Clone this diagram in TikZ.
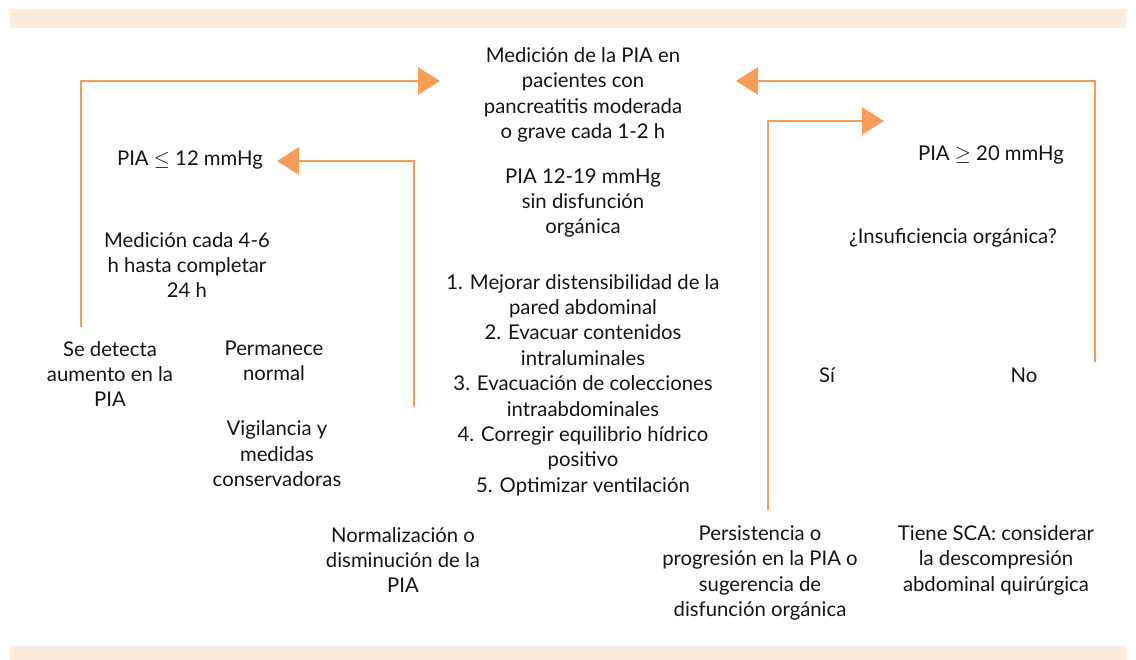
\documentclass[tikz,border=0pt]{standalone}
\usepackage{fontspec}
\setmainfont{Lato}
\usetikzlibrary{arrows.meta}
\usetikzlibrary{positioning}

\definecolor{piaorange}{HTML}{F89D58}
\definecolor{piaband}{HTML}{FDEBDD}

\tikzset{
	txt/.style={align=center,inner sep=0pt,text=black!92,font=\fontsize{20.3}{25.4}\selectfont},
	flow/.style={draw=piaorange,line width=2.6pt,-{Triangle[length=22pt,width=27pt]}}
}

\begin{document}
\begin{tikzpicture}[x=1pt,y=-1pt]
	\useasboundingbox (0,0) rectangle (1136,660);
	% bands
	\fill[piaband] (10,9) rectangle (1126,28);
	\fill[piaband] (10,646) rectangle (1126,660);

	% Place nodes
	\node[txt] (measure) at (583,95) {Medición de la PIA en\\pacientes con\\pancreatitis moderada\\o grave cada 1-2 h};
	\node[txt] (mid) at (583,203) {PIA 12-19 mmHg\\sin disfunción\\orgánica};
	\node[txt] (steps) at (583,385) {1. Mejorar distensibilidad de la\\pared abdominal\\2. Evacuar contenidos\\intraluminales\\3. Evacuación de colecciones\\intraabdominales\\4. Corregir equilibrio hídrico\\positivo\\5. Optimizar ventilación};
	\node[txt] (low) at (190,160) {PIA $\le$ 12 mmHg};
	\node[txt] (lowcheck) at (187,265) {Medición cada 4-6\\h hasta completar\\24 h};
	\node[txt] (detect) at (110,374) {Se detecta\\aumento en la\\PIA};
	\node[txt] (normal) at (274,361) {Permanece\\normal};
	\node[txt] (watch) at (277,454) {Vigilancia y\\medidas\\conservadoras};
	\node[txt] (better) at (403,560) {Normalización o\\disminución de la\\PIA};
	\node[txt] (high) at (991,155) {PIA $\ge$ 20 mmHg};
	\node[txt] (failq) at (953,238) {¿Insuficiencia orgánica?};
	\node[txt] (yes) at (827,375) {Sí};
	\node[txt] (no) at (1024,375) {No};
	\node[txt] (worse) at (760,573) {Persistencia o\\progresión en la PIA o\\sugerencia de\\disfunción orgánica};
	\node[txt] (sca) at (996,560) {Tiene SCA: considerar\\la descompresión\\abdominal quirúrgica};

	% loose ends of the connectors
	\coordinate (up1) at (81,327);
	\coordinate (in1) at (440,81);
	\coordinate (up2) at (414,407);
	\coordinate (in2) at (277,161);
	\coordinate (up3) at (1095,362);
	\coordinate (in3) at (736,81);
	\coordinate (up4) at (768,510);
	\coordinate (in4) at (884,121);

	\draw[flow] (up1) |- (in1);
	\draw[flow] (up2) |- (in2);
	\draw[flow] (up3) |- (in3);
	\draw[flow] (up4) |- (in4);
\end{tikzpicture}
\end{document}
